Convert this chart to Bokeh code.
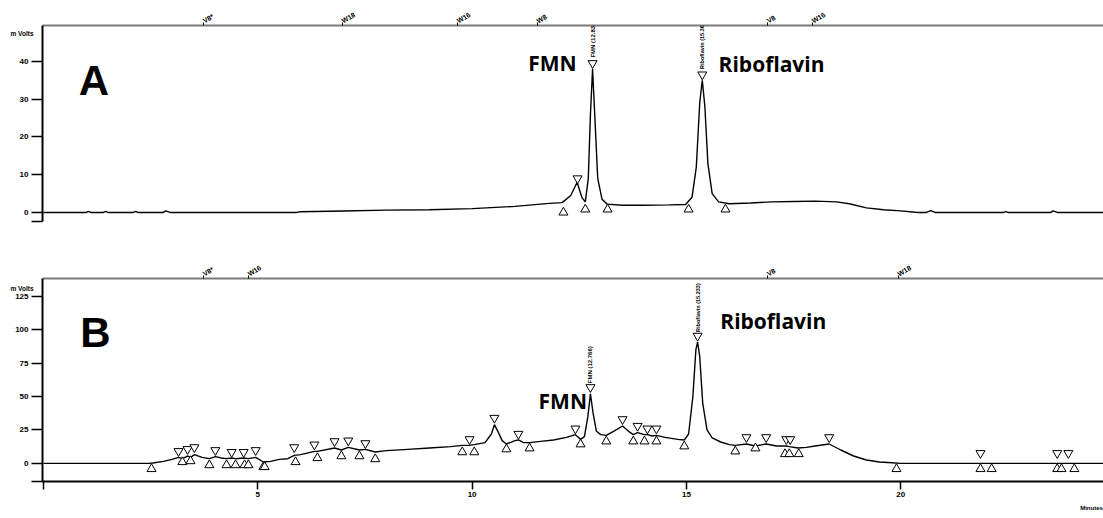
import math
from bokeh.plotting import figure
from bokeh.layouts import column
from bokeh.models import Label, LinearAxis, FixedTicker, Range1d
from bokeh.embed import file_html
from bokeh.resources import INLINE

# ---------------- Panel A data ----------------
a_time = [0.0, 1.0, 1.05, 1.1, 1.4, 1.45, 1.5, 2.1, 2.15, 2.2, 2.8, 2.85, 2.95, 5.9, 6.0, 7.0, 8.0, 9.0,
          10.0, 11.0, 11.8, 12.1, 12.3, 12.45, 12.56, 12.64, 12.71, 12.76, 12.81, 12.86, 12.93, 13.03, 13.15,
          13.5, 14.0, 14.6, 14.98, 15.13, 15.23, 15.31, 15.37, 15.43, 15.5, 15.6, 15.75, 16.0, 16.5, 17.0,
          17.5, 18.0, 18.5, 18.8, 19.2, 19.6, 20.0, 20.4, 20.6, 20.7, 20.8, 22.4, 22.45, 22.5, 23.5, 23.55,
          23.65, 24.8]
a_mv = [0.0, 0.0, 0.3, 0.0, 0.0, 0.3, 0.0, 0.0, 0.3, 0.0, 0.0, 0.4, 0.0, 0.0, 0.2, 0.4, 0.6, 0.7,
        1.0, 1.6, 2.4, 2.6, 4.5, 8.0, 4.0, 2.8, 9.0, 26.0, 38.0, 26.0, 9.0, 3.5, 2.2,
        1.9, 1.9, 2.0, 2.1, 4.0, 12.0, 29.0, 35.0, 28.0, 13.0, 5.0, 2.8, 2.3, 2.5, 2.8,
        2.9, 3.0, 2.8, 2.3, 1.2, 0.7, 0.4, 0.0, 0.0, 0.5, 0.0, 0.0, 0.2, 0.0, 0.0, 0.4,
        0.0, 0.0]
a_up_t = [12.13, 12.64, 13.16, 15.05, 15.91]
a_up_v = [0.0, 0.8, 0.8, 0.8, 0.8]
a_down_t = [12.46, 12.81, 15.37]
a_down_v = [9.0, 39.5, 36.5]
a_event_t = [3.73, 6.97, 9.66, 11.52, 16.89, 17.94]
a_event_lbl = ["V8*", "W18", "W16", "W8", "V8", "W16"]
a_yticks = [0, 10, 20, 30, 40]
a_unit_pos = 47.4

# ---------------- Panel B data ----------------
b_time = [0.0, 2.45, 2.55, 2.8, 3.0, 3.15, 3.24, 3.36, 3.43, 3.52, 3.7, 3.87, 4.01, 4.15, 4.27, 4.39,
          4.48, 4.67, 4.78, 4.95, 5.13, 5.3, 5.5, 5.7, 5.85, 6.0, 6.32, 6.39, 6.79, 6.95, 7.11, 7.37,
          7.51, 7.74, 8.0, 8.5, 9.0, 9.5, 9.77, 9.94, 10.05, 10.3, 10.45, 10.52, 10.6, 10.7, 10.8,
          11.0, 11.08, 11.2, 11.34, 11.6, 11.9, 12.2, 12.41, 12.53, 12.62, 12.7, 12.76, 12.82, 12.9,
          13.0, 13.13, 13.3, 13.51, 13.65, 13.76, 13.86, 14.02, 14.09, 14.2, 14.3, 14.5, 14.8, 14.95,
          15.05, 15.15, 15.22, 15.26, 15.31, 15.38, 15.48, 15.6, 15.8, 16.0, 16.14, 16.4, 16.61,
          16.86, 17.1, 17.33, 17.4, 17.6, 17.8, 18.0, 18.33, 18.6, 18.9, 19.2, 19.5, 19.8, 20.0, 24.8]
b_mv = [0.0, 0.0, 0.3, 1.5, 3.0, 4.5, 3.5, 5.5, 4.5, 6.5, 4.5, 3.5, 5.0, 4.0, 3.5, 4.0,
        3.5, 4.0, 3.5, 4.5, 1.0, 1.5, 3.0, 3.5, 6.0, 6.5, 9.0, 9.0, 11.5, 10.0, 12.0, 10.0,
        10.5, 8.5, 9.5, 10.5, 11.5, 12.5, 13.5, 13.5, 14.0, 15.5, 22.0, 29.0, 24.0, 17.0, 14.5,
        17.0, 17.5, 15.5, 15.5, 16.5, 17.5, 19.5, 21.5, 18.0, 20.0, 35.0, 52.0, 38.0, 24.0,
        21.5, 21.0, 24.0, 28.0, 24.0, 21.5, 23.0, 21.5, 21.5, 20.5, 21.0, 19.5, 18.0, 17.5,
        22.0, 50.0, 85.0, 91.0, 80.0, 45.0, 25.0, 19.0, 16.0, 14.0, 13.5, 14.5, 13.0,
        14.5, 13.0, 13.0, 12.5, 11.5, 12.0, 13.0, 14.5, 10.0, 5.5, 2.5, 1.0, 0.4, 0.0, 0.0]
b_down_t = [3.15, 3.36, 3.52, 4.01, 4.39, 4.67, 4.95, 5.85, 6.32, 6.79, 7.11, 7.51, 9.94, 10.52,
            11.08, 12.41, 12.76, 13.51, 13.86, 14.09, 14.30, 15.26, 16.40, 16.86, 17.33, 17.42,
            18.33, 21.86, 23.65, 23.91]
b_down_v = [9.1, 10.6, 12.0, 9.8, 8.4, 8.4, 9.8, 12.0, 14.0, 16.5, 17.0, 15.0, 18.0, 34.0,
            22.0, 26.0, 57.0, 33.0, 28.0, 26.0, 26.0, 95.5, 19.5, 19.5, 18.0, 18.0,
            19.5, 7.6, 7.6, 7.6]
b_up_t = [2.52, 3.24, 3.43, 3.87, 4.27, 4.48, 4.69, 4.78, 5.13, 5.16, 5.88, 6.39, 6.95, 7.37, 7.74,
          9.77, 10.05, 10.80, 11.34, 12.53, 13.13, 13.76, 14.02, 14.30, 14.95, 16.14, 16.61,
          17.30, 17.40, 17.62, 19.90, 21.86, 22.12, 23.65, 23.75, 24.05]
b_up_v = [-4.2, 1.0, 1.7, -1.3, -1.3, -1.3, -1.3, -1.3, -2.7, -2.7, 1.0, 4.0, 5.4, 5.4, 3.2,
          8.4, 8.4, 10.6, 11.3, 14.3, 16.5, 16.5, 16.5, 16.5, 12.8, 9.0, 11.3,
          7.0, 7.0, 7.0, -4.2, -4.2, -4.2, -4.2, -4.2, -4.2]
b_event_t = [3.73, 4.78, 16.89, 19.94]
b_event_lbl = ["V8*", "W16", "V8", "W18"]
b_yticks = [0, 25, 50, 75, 100, 125]
b_xticks = [0, 5, 10, 15, 20]
b_unit_pos = 131.0
b_minutes_pos = 24.45

X_RANGE = (-0.0233, 24.73)
AX_FONT = "Liberation Sans"
FIG_W = 1103


def style_labels(ax, size):
    ax.major_label_text_font = AX_FONT
    ax.major_label_text_font_style = "bold"
    ax.major_label_text_font_size = size
    ax.major_label_text_color = "black"


def caption_axis(pos, text, size, standoff):
    ax = LinearAxis(ticker=FixedTicker(ticks=[pos]), major_label_overrides={pos: text})
    ax.axis_line_color = None
    ax.major_tick_line_color = None
    ax.minor_tick_line_color = None
    ax.major_tick_out = 0
    ax.major_tick_in = 0
    ax.major_label_standoff = standoff
    style_labels(ax, size)
    return ax


def make_panel(yr, height, border_top, border_bottom, with_x, yticks, events, event_lbls,
               unit_pos, unit_standoff):
    p = figure(width=FIG_W, height=height, x_range=Range1d(*X_RANGE), y_range=Range1d(*yr),
               output_backend="svg", toolbar_location=None,
               min_border_left=42, min_border_right=0, min_border_top=border_top,
               min_border_bottom=border_bottom,
               x_axis_location="below" if with_x else None)
    p.outline_line_color = None
    p.xgrid.visible = False
    p.ygrid.visible = False
    p.background_fill_color = "white"

    bottom_tick = round(yr[0] + 0.03, 2)
    yax = p.yaxis[0]
    yax.ticker = FixedTicker(ticks=[bottom_tick] + yticks)
    yax.major_label_overrides = {bottom_tick: ""}
    yax.axis_line_color = "black"
    yax.axis_line_width = 2
    yax.major_tick_out = 11
    yax.major_tick_in = 0
    yax.major_tick_line_width = 1.5
    yax.minor_tick_line_color = None
    yax.major_label_standoff = 3
    style_labels(yax, "8px")

    # unit caption "m Volts": an outer tick-less axis whose label is pulled back toward the frame
    p.add_layout(caption_axis(unit_pos, "m Volts", "6.5px", unit_standoff), "left")

    top = LinearAxis(ticker=FixedTicker(ticks=events),
                     major_label_overrides={t: l for t, l in zip(events, event_lbls)})
    top.axis_line_color = "#7a7a7a"
    top.axis_line_width = 2
    top.major_tick_out = 3
    top.major_tick_in = 0
    top.major_tick_line_color = "black"
    top.minor_tick_line_color = None
    top.major_label_orientation = 0.55
    top.major_label_standoff = 1
    style_labels(top, "7px")
    p.add_layout(top, "above")
    return p


def text_label(p, x, y, text, font, size, angle=0.0, align="left", baseline="alphabetic"):
    p.add_layout(Label(x=x, y=y, text=text, angle=angle, text_font=font, text_font_style="bold",
                       text_font_size=size, text_color="black", text_align=align,
                       text_baseline=baseline))


# ---------------- Figure A ----------------
pa = make_panel((-2.4, 49.5), 258, 25, 37, False, a_yticks, a_event_t, a_event_lbl, a_unit_pos, -17)
pa.line(a_time, a_mv, line_color="black", line_width=1.4)
pa.scatter(a_up_t, a_up_v, marker="triangle", size=9, fill_color="white", line_color="black", line_width=1)
pa.scatter(a_down_t, a_down_v, marker="inverted_triangle", size=9, fill_color="white", line_color="black", line_width=1)

text_label(pa, 0.82, 34.9, "A", "Liberation Sans", "42px")
text_label(pa, 11.31, 39.7, "FMN", "Open Sans", "21px")
text_label(pa, 15.75, 39.4, "Riboflavin", "Open Sans", "21px")
text_label(pa, 12.81, 41.0, "FMN (12.833)", AX_FONT, "6px", angle=math.pi / 2, baseline="middle")
text_label(pa, 15.37, 38.0, "Riboflavin (15.367)", AX_FONT, "5.5px", angle=math.pi / 2, baseline="middle")

# ---------------- Figure B ----------------
pb = make_panel((-13.6, 138.5), 255, 17, 32, True, b_yticks, b_event_t, b_event_lbl, b_unit_pos, -21)
xax = pb.below[0]
xax.ticker = FixedTicker(ticks=b_xticks)
xax.major_label_overrides = {0: ""}
xax.axis_line_color = "black"
xax.axis_line_width = 2
xax.major_tick_out = 8
xax.major_tick_in = 0
xax.major_tick_line_width = 1.5
xax.minor_tick_line_color = None
xax.major_label_text_align = "left"
xax.major_label_standoff = 2
style_labels(xax, "8px")

# "Minutes" caption: an outer tick-less axis below the time axis
pb.add_layout(caption_axis(b_minutes_pos, "Minutes", "6px", 5), "below")

pb.line(b_time, b_mv, line_color="black", line_width=1.4)
pb.scatter(b_up_t, b_up_v, marker="triangle", size=9, fill_color="white", line_color="black", line_width=1)
pb.scatter(b_down_t, b_down_v, marker="inverted_triangle", size=9, fill_color="white", line_color="black", line_width=1)

text_label(pb, 0.86, 97.9, "B", "Liberation Sans", "42px")
text_label(pb, 11.55, 46.8, "FMN", "Open Sans", "21px")
text_label(pb, 15.79, 106.7, "Riboflavin", "Open Sans", "21px")
text_label(pb, 12.76, 60.0, "FMN (12.766)", AX_FONT, "6px", angle=math.pi / 2, baseline="middle")
text_label(pb, 15.26, 98.5, "Riboflavin (15.233)", AX_FONT, "5.5px", angle=math.pi / 2, baseline="middle")

layout = column(pa, pb, spacing=0)
open("out.html", "w").write(file_html(layout, INLINE))
